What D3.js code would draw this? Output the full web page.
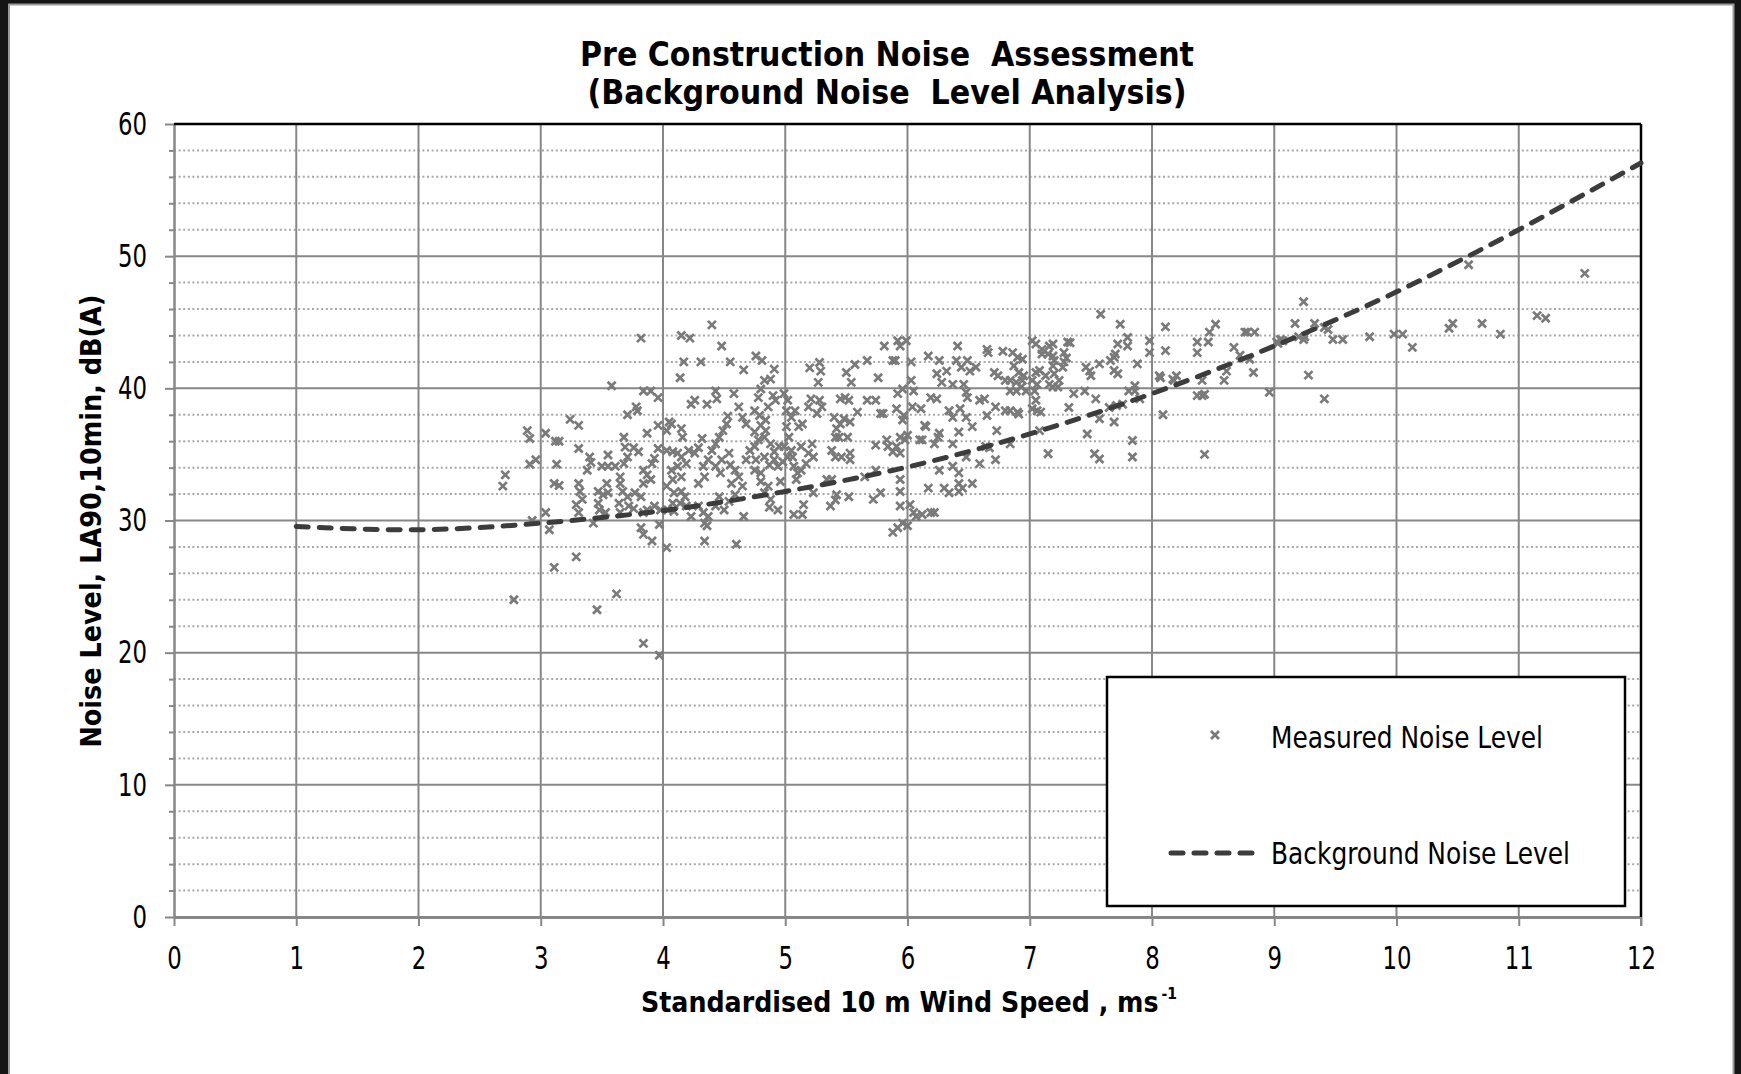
<!DOCTYPE html>
<html><head><meta charset="utf-8">
<script src="https://cdn.jsdelivr.net/npm/d3@7"></script>
<style>html,body{margin:0;padding:0;background:#fff;overflow:hidden}</style>
</head><body><svg id="c" width="1741" height="1074"></svg>
<script>
const xTicks = [0,1,2,3,4,5,6,7,8,9,10,11,12];
const yTicks = [0,10,20,30,40,50,60];
const yMinorTicks = [2,4,6,8,12,14,16,18,22,24,26,28,32,34,36,38,42,44,46,48,52,54,56,58];
const curveWind = [1,2,3,4,5,6,7,8,9,10,11,12];
const curveNoise = [29.55,29.3,29.8,30.75,32.2,34.05,36.55,39.6,43.2,47.3,52.0,57.05];
const measuredWind = [
2.69,2.71,2.89,2.91,2.91,2.96,2.78,2.93,3.04,3.04,3.07,3.12,3.15,3.13,3.11,3.15,3.11,3.24,3.31,3.31,
3.29,3.38,3.31,3.32,3.34,3.29,3.31,3.40,3.41,3.5,3.55,3.55,3.61,3.47,3.51,3.54,3.47,3.55,3.48,3.53,
3.43,3.46,3.58,3.62,3.65,3.68,3.69,3.71,3.68,3.65,3.67,3.71,3.64,3.72,3.65,3.71,3.78,3.79,3.76,3.80,
3.77,3.82,3.76,3.84,3.87,3.82,3.84,3.91,3.82,3.84,3.9,3.96,3.87,3.84,3.87,3.9,3.84,3.91,3.93,3.84,
3.97,3.97,4.03,3.96,4.03,4.05,3.96,4.03,3.98,3.93,4.14,4.15,4.22,4.17,4.31,4.4,4.48,4.55,4.66,4.23,
4.26,4.36,4.43,4.44,4.58,4.62,4.15,4.07,4.16,4.08,4.12,4.15,4.21,4.26,4.32,4.29,4.07,4.12,4.19,4.15,
4.08,4.03,4.09,4.15,4.18,4.08,4.14,4.19,4.04,4.09,4.23,4.29,4.33,4.37,4.34,4.36,4.34,4.29,4.34,4.33,
4.37,4.4,4.43,4.46,4.49,4.52,4.53,4.43,4.47,4.48,4.54,4.55,4.59,4.56,4.62,4.65,4.68,4.71,4.46,4.54,
4.59,4.43,4.5,4.6,4.65,4.68,4.66,
4.76,4.81,4.91,4.88,4.83,4.8,4.78,4.9,4.92,4.86,4.75,4.79,4.84,4.8,4.75,4.84,4.78,4.75,4.83,4.88,
4.91,4.95,4.76,4.83,4.87,4.75,4.8,4.91,4.94,4.8,4.86,4.83,4.88,4.87,4.94,4.96,4.99,5.02,5.01,5.05,
5.08,5.01,5.03,4.99,5.05,5.02,4.98,5.06,5.07,5.1,5.13,5.09,5.11,5.14,5.13,5.07,5.14,5.15,5.2,5.28,
5.29,5.27,5.21,5.28,5.3,5.19,5.26,5.19,5.22,5.17,5.23,5.23,5.34,5.38,5.37,5.41,5.42,5.4,5.45,5.42,
5.48,5.53,5.41,5.44,5.51,5.38,5.41,5.46,5.53,5.53,5.45,5.49,5.52,5.59,5.5,5.57,5.54,5.52,5.67,5.67,
5.74,5.76,5.78,5.8,5.74,5.83,5.84,5.88,5.65,5.74,5.72,5.78,5.81,5.88,5.9,5.92,5.94,5.99,5.92,5.96,
5.91,5.97,5.96,5.94,5.98,6.0,5.91,5.94,5.94,5.94,5.94,5.88,5.92,5.96,6.0,6.02,6.03,6.03,6.05,6.04,
6.11,6.14,6.12,6.1,6.05,6.07,6.12,6.19,6.22,6.17,6.26,6.24,6.32,6.41,6.4,6.44,6.49,6.51,6.56,6.19,
6.24,6.28,6.37,6.46,6.48,6.49,6.34,6.37,6.43,6.48,6.53,6.59,6.63,6.65,6.72,6.8,6.15,6.25,6.26,6.22,
6.37,6.42,6.26,6.37,6.42,6.42,6.53,6.59,6.64,6.72,6.73,6.17,6.3,6.34,6.42,6.45,6.65,6.66,6.78,6.8,
6.71,6.74,6.48,6.67,
6.86,6.9,6.94,6.87,6.84,6.89,6.94,6.93,6.89,6.84,6.97,6.91,6.95,6.84,6.9,6.91,6.84,7.02,7.05,7.1,
7.16,7.19,7.15,7.19,7.2,7.1,7.05,7.08,7.02,7.06,7.13,7.16,7.19,7.23,7.2,7.19,7.24,7.28,7.3,7.31,
7.33,7.27,7.28,7.04,7.05,7.02,7.06,7.09,7.08,7.15,7.36,7.45,7.32,7.46,7.49,7.5,7.57,7.54,7.47,7.53,
7.57,7.57,7.58,7.65,7.71,7.69,7.76,7.66,7.69,7.7,7.72,7.69,7.72,7.74,7.8,7.8,7.81,7.86,7.86,7.88,
7.84,7.84,7.9,7.98,7.98,8.11,8.11,8.06,8.07,8.09,8.17,8.2,8.18,8.37,8.37,8.46,8.47,8.52,8.37,8.41,
8.43,8.41,8.43,8.59,8.61,8.67,8.72,8.8,8.83,8.76,8.78,8.84,8.96,9.02,9.07,
9.03,9.05,9.24,9.17,9.2,9.24,9.25,9.33,9.41,9.44,9.48,9.56,9.28,9.41,9.78,9.98,10.05,10.13,10.43,10.46,
10.59,10.7,10.85,11.15,11.22,11.54];
const measuredNoise = [
32.6,33.45,36.8,36.2,34.25,34.6,24.0,30.0,36.6,30.6,29.3,36.0,36.0,34.25,32.8,32.65,26.45,37.65,37.2,35.45,
27.25,33.8,32.8,32.2,31.6,31.2,30.6,34.8,34.4,34.1,34.95,34.1,34.1,32.2,31.95,32.8,31.3,32.1,30.8,30.6,
29.8,23.25,40.2,24.45,33.3,36.3,35.55,34.8,34.3,32.8,32.2,31.8,31.3,31.1,30.6,38.0,38.6,38.3,35.5,35.2,
32.1,31.8,30.9,30.6,30.8,29.45,28.95,28.45,43.8,39.8,39.8,39.3,36.6,33.8,33.45,33.1,32.8,34.3,34.7,20.7,
19.8,29.7,27.95,37.2,36.8,37.45,35.45,35.3,30.8,31.1,40.8,44.0,43.8,42.0,42.0,44.8,43.2,42.0,41.4,38.8,
39.1,38.8,39.8,39.2,39.6,38.6,36.95,37.3,36.3,35.2,35.1,34.8,35.3,35.1,36.2,35.5,33.8,34.1,34.3,33.3,
33.1,32.6,32.1,32.2,31.8,31.3,31.3,31.1,30.8,30.7,30.3,31.1,30.6,30.3,29.8,29.6,28.45,32.8,33.3,34.1,
34.6,35.3,35.8,36.3,36.8,37.3,37.9,34.1,33.6,34.6,35.1,34.2,33.8,32.8,33.3,32.6,34.6,35.3,31.8,31.45,
31.95,31.1,30.8,28.2,37.8,37.3,30.3,
42.45,42.1,41.45,40.7,40.6,39.95,39.3,39.45,39.1,38.6,38.3,37.95,37.6,37.2,36.7,36.8,36.1,35.6,36.3,35.8,
35.2,35.6,34.6,34.8,34.2,33.8,33.6,34.6,34.1,32.95,32.6,32.1,31.6,31.0,30.8,32.95,39.6,39.1,38.3,37.8,
38.3,37.1,36.3,35.6,35.3,34.8,34.45,34.8,34.1,33.6,33.8,33.1,37.1,37.3,35.6,30.45,30.45,31.2,41.55,41.95,
41.3,40.45,39.2,39.1,38.6,38.6,38.1,35.1,35.8,34.3,34.8,32.1,33.1,33.1,31.1,31.55,31.95,37.8,37.3,36.95,
37.7,37.45,36.3,36.3,36.3,35.3,34.8,34.8,35.1,34.6,39.2,39.3,39.1,38.2,41.2,41.8,40.45,31.8,42.1,39.1,
39.1,40.8,38.1,38.1,35.7,36.1,35.6,35.2,33.3,33.8,31.6,32.1,43.2,42.1,42.1,43.6,43.2,43.6,39.6,39.95,
38.45,37.95,37.6,36.3,36.1,36.45,35.6,35.1,33.1,32.2,31.1,29.1,29.45,29.8,29.6,31.2,42.0,40.6,39.8,38.6,
38.45,37.2,36.1,36.1,30.6,30.3,30.45,30.6,30.6,42.45,42.1,41.1,41.3,43.2,42.1,41.6,42.1,41.3,41.6,39.3,
39.2,40.45,40.3,40.3,39.7,39.3,38.3,37.8,38.45,37.8,37.1,39.1,39.2,37.95,38.6,38.3,37.1,36.3,36.6,35.8,
35.8,36.7,33.8,34.1,33.6,32.8,32.8,34.3,35.6,34.6,36.8,32.45,32.45,32.1,32.2,32.45,42.95,42.7,42.8,40.6,
41.2,40.95,34.8,35.5,
42.7,42.35,42.2,41.7,40.6,40.45,40.6,40.1,39.8,39.8,39.8,41.2,40.95,38.3,38.2,38.05,35.8,43.6,43.35,42.95,
43.2,43.35,42.6,42.45,42.1,42.6,41.2,41.35,40.6,40.3,40.95,40.3,40.1,40.1,41.1,41.7,40.6,42.7,42.3,43.5,
43.45,41.6,42.0,39.8,39.1,38.45,38.3,38.2,36.8,35.05,39.6,39.8,38.55,41.6,41.3,40.95,41.85,39.2,36.55,35.05,
34.65,37.7,45.6,38.55,38.7,37.45,38.8,42.1,42.35,42.6,43.35,41.35,41.1,44.85,43.85,43.2,39.8,40.2,39.8,41.85,
36.05,34.8,39.2,43.6,42.7,44.65,42.85,40.95,40.8,38.0,40.7,40.95,40.6,43.5,42.7,43.5,44.25,44.85,39.45,39.45,
39.55,40.6,35.0,40.6,41.3,43.1,42.5,42.2,41.2,44.25,44.25,44.25,39.7,43.5,43.6,
43.4,43.7,46.55,44.9,43.9,43.7,43.9,44.9,44.6,44.45,43.7,43.7,41.0,39.2,43.9,44.1,44.1,43.1,44.55,44.9,
49.35,44.9,44.1,45.5,45.3,48.7];

const svg = d3.select('#c');
const W = 1741, H = 1074;
const FONT = "'DejaVu Sans Condensed','DejaVu Sans',sans-serif";

// frame
svg.append('rect').attr('x',0).attr('y',0).attr('width',W).attr('height',H).attr('fill','#151515');
svg.append('rect').attr('x',9).attr('y',4.5).attr('width',1724.5).attr('height',H).attr('fill','#fff')
  .attr('stroke','#9a9a9a').attr('stroke-width',2);

const x = d3.scaleLinear().domain([0,12]).range([174,1641]);
const y = d3.scaleLinear().domain([0,60]).range([917,124]);

const g = svg.append('g');

// minor dotted gridlines
g.selectAll('line.minor').data(yMinorTicks).join('line')
  .attr('x1',x(0)).attr('x2',x(12)).attr('y1',d=>y(d)).attr('y2',d=>y(d))
  .attr('stroke','#a8a8a8').attr('stroke-width',2).attr('stroke-dasharray','2,2.6');
// major gridlines
g.selectAll('line.hmaj').data(yTicks.filter(d=>d>0&&d<60)).join('line')
  .attr('x1',x(0)).attr('x2',x(12)).attr('y1',d=>y(d)).attr('y2',d=>y(d))
  .attr('stroke','#878787').attr('stroke-width',2);
g.selectAll('line.vmaj').data(xTicks.filter(d=>d>0&&d<12)).join('line')
  .attr('x1',d=>x(d)).attr('x2',d=>x(d)).attr('y1',y(0)).attr('y2',y(60))
  .attr('stroke','#878787').attr('stroke-width',2);

// minor ticks on y axis
const yMinorAxis = d3.axisLeft(y).tickValues(yMinorTicks).tickSize(5).tickFormat('');
const gm = svg.append('g').attr('transform',`translate(${x(0)},0)`).call(yMinorAxis);
gm.select('.domain').remove();
gm.selectAll('line').attr('stroke','#878787').attr('stroke-width',2);

// Y axis
const yAxis = d3.axisLeft(y).tickValues(yTicks).tickSize(9).tickPadding(18).tickSizeOuter(0);
const gy = svg.append('g').attr('transform',`translate(${x(0)},0)`).call(yAxis);
gy.select('.domain').attr('stroke','#878787').attr('stroke-width',2.5);
gy.selectAll('line').attr('stroke','#878787').attr('stroke-width',2);
gy.selectAll('text').attr('font-family',FONT).attr('font-size',32).attr('fill','#000')
  .attr('textLength',d=>String(d).length*14.5).attr('lengthAdjust','spacingAndGlyphs');

// X axis
const xAxis = d3.axisBottom(x).tickValues(xTicks).tickSize(9).tickPadding(20).tickSizeOuter(0);
const gx = svg.append('g').attr('transform',`translate(0,${y(0)})`).call(xAxis);
gx.select('.domain').attr('stroke','#878787').attr('stroke-width',3);
gx.selectAll('line').attr('stroke','#878787').attr('stroke-width',2);
gx.selectAll('text').attr('font-family',FONT).attr('font-size',32).attr('fill','#000')
  .attr('textLength',d=>String(d).length*14.5).attr('lengthAdjust','spacingAndGlyphs');

// top & right borders
svg.append('line').attr('x1',x(0)).attr('x2',x(12)).attr('y1',y(60)).attr('y2',y(60))
  .attr('stroke','#000').attr('stroke-width',2.5);
svg.append('line').attr('x1',x(12)).attr('x2',x(12)).attr('y1',y(60)).attr('y2',y(0))
  .attr('stroke','#000').attr('stroke-width',2.5);
svg.append('line').attr('x1',x(12)).attr('x2',x(12)).attr('y1',y(0)).attr('y2',y(0)+9)
  .attr('stroke','#878787').attr('stroke-width',2);

// measured points
const pts = measuredWind.map((w,i)=>[w, measuredNoise[i]]);
const xMark = 'M-4,-4L4,4M-4,4L4,-4';
svg.append('g').selectAll('path').data(pts).join('path')
  .attr('transform',d=>`translate(${x(d[0])},${y(d[1])})`)
  .attr('d',xMark).attr('stroke','#7a7a7a').attr('stroke-width',2.7).attr('fill','none');

// background curve
const line = d3.line().x(d=>x(d[0])).y(d=>y(d[1])).curve(d3.curveNatural);
const cpts = curveWind.map((w,i)=>[w, curveNoise[i]]);
svg.append('path').datum(cpts).attr('d',line).attr('fill','none')
  .attr('stroke','#3c3c3c').attr('stroke-width',5).attr('stroke-linecap','round')
  .attr('stroke-dasharray','12,11');

// legend
const lg = svg.append('g');
lg.append('rect').attr('x',1107).attr('y',677).attr('width',518).attr('height',229)
  .attr('fill','#fff').attr('stroke','#000').attr('stroke-width',2.5);
lg.append('path').attr('transform','translate(1215,735)').attr('d',xMark)
  .attr('stroke','#7a7a7a').attr('stroke-width',2.7).attr('fill','none');
lg.append('line').attr('x1',1171).attr('x2',1258).attr('y1',853).attr('y2',853)
  .attr('stroke','#3c3c3c').attr('stroke-width',5).attr('stroke-linecap','round')
  .attr('stroke-dasharray','12,11');
lg.append('text').attr('x',1271).attr('y',748).text('Measured Noise Level')
  .attr('font-family',FONT).attr('font-size',30).attr('fill','#000')
  .attr('textLength',272).attr('lengthAdjust','spacingAndGlyphs');
lg.append('text').attr('x',1271).attr('y',864).text('Background Noise Level')
  .attr('font-family',FONT).attr('font-size',30).attr('fill','#000')
  .attr('textLength',299).attr('lengthAdjust','spacingAndGlyphs');

// titles
svg.append('text').attr('x',887).attr('y',66).attr('text-anchor','middle')
  .style('white-space','pre').text('Pre Construction Noise  Assessment')
  .attr('font-family',FONT).attr('font-weight','bold').attr('font-size',34).attr('fill','#000')
  .attr('textLength',614).attr('lengthAdjust','spacingAndGlyphs');
svg.append('text').attr('x',887).attr('y',104).attr('text-anchor','middle')
  .style('white-space','pre').text('(Background Noise  Level Analysis)')
  .attr('font-family',FONT).attr('font-weight','bold').attr('font-size',34).attr('fill','#000')
  .attr('textLength',599).attr('lengthAdjust','spacingAndGlyphs');

// x axis title (single text with superscript tspan)
const xt = svg.append('text').attr('x',641).attr('y',1012)
  .attr('font-family',FONT).attr('font-weight','bold').attr('font-size',29).attr('fill','#000')
  .attr('textLength',536).attr('lengthAdjust','spacingAndGlyphs');
xt.append('tspan').text('Standardised 10 m Wind Speed , ms');
xt.append('tspan').attr('dx',3).attr('dy',-13).attr('font-size',16).text('-1');

// y axis title
svg.append('text').attr('transform','translate(101,521) rotate(-90)').attr('text-anchor','middle')
  .text('Noise Level, LA90,10min, dB(A)')
  .attr('font-family',FONT).attr('font-weight','bold').attr('font-size',29).attr('fill','#000')
  .attr('textLength',453).attr('lengthAdjust','spacingAndGlyphs');
</script></body></html>
